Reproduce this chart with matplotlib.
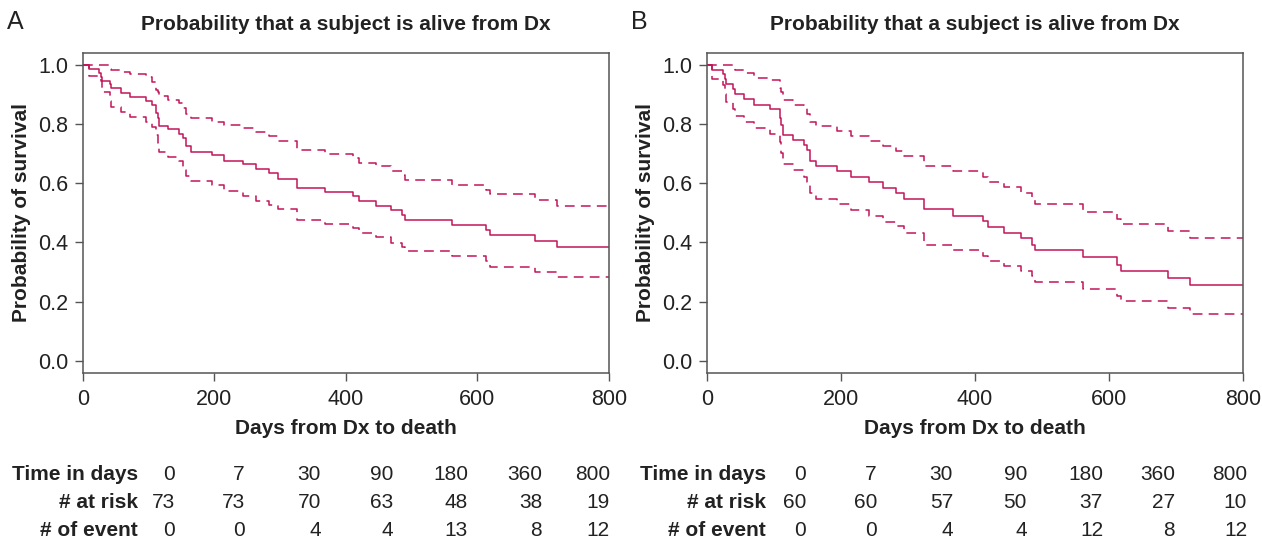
import numpy as np
import matplotlib
matplotlib.use("Agg")
import matplotlib.pyplot as plt

plt.rcParams['font.family'] = ['Liberation Sans', 'DejaVu Sans']
plt.rcParams['lines.scale_dashes'] = False

# ---- data ----
# panel A
times_a = [9.6, 25, 27.4, 29.4, 41.5, 43.5, 57.8, 71.9, 95.8, 104.9, 111.5, 114, 116,
           130.2, 146.5, 152, 156.7, 164.3, 196.2, 214.9, 243.3, 263.6, 283.3, 296.6,
           325.9, 368.5, 411.6, 420.7, 445.6, 468.4, 485.2, 490.2, 561.2, 613.4, 619,
           688.4, 721.8]
surv_a = [0.986, 0.973, 0.959, 0.945, 0.934, 0.921, 0.905, 0.891, 0.878, 0.863, 0.837,
          0.820, 0.794, 0.782, 0.767, 0.751, 0.726, 0.706, 0.694, 0.675, 0.664, 0.646,
          0.633, 0.615, 0.585, 0.570, 0.555, 0.538, 0.521, 0.508, 0.491, 0.474, 0.457,
          0.440, 0.424, 0.406, 0.383]
upper_a = [1.0, 1.0, 1.0, 1.0, 0.985, 0.980, 0.975, 0.967, 0.958, 0.941, 0.914, 0.906,
           0.894, 0.880, 0.869, 0.852, 0.832, 0.818, 0.807, 0.796, 0.785, 0.771, 0.758,
           0.743, 0.713, 0.699, 0.685, 0.669, 0.656, 0.641, 0.626, 0.611, 0.594, 0.578,
           0.563, 0.544, 0.524]
lower_a = [0.962, 0.955, 0.945, 0.908, 0.877, 0.857, 0.841, 0.823, 0.807, 0.790, 0.762,
           0.734, 0.704, 0.689, 0.675, 0.645, 0.625, 0.608, 0.592, 0.574, 0.558, 0.541,
           0.527, 0.512, 0.477, 0.463, 0.450, 0.432, 0.417, 0.398, 0.385, 0.370, 0.353,
           0.336, 0.317, 0.299, 0.282]

# panel B
times_b = [8.4, 24.8, 27.3, 28.8, 39.8, 42.3, 56.2, 71, 94.5, 109.4, 110.9, 114.4, 128.4,
           145.7, 149.3, 154.2, 162.7, 195, 214.9, 242.7, 262.6, 282, 295, 324.8, 367,
           412, 420, 444, 469, 486, 490, 561, 612, 618, 689, 721]
surv_b = [0.983, 0.967, 0.950, 0.933, 0.919, 0.900, 0.883, 0.865, 0.850, 0.818, 0.796,
          0.762, 0.745, 0.729, 0.710, 0.675, 0.658, 0.641, 0.621, 0.602, 0.583, 0.565,
          0.547, 0.511, 0.490, 0.471, 0.451, 0.432, 0.415, 0.392, 0.373, 0.350, 0.325,
          0.303, 0.278, 0.255]
upper_b = [1.0, 1.0, 1.0, 1.0, 0.990, 0.983, 0.973, 0.956, 0.947, 0.922, 0.906, 0.882,
           0.865, 0.854, 0.832, 0.807, 0.793, 0.776, 0.759, 0.742, 0.726, 0.708, 0.693,
           0.659, 0.641, 0.620, 0.603, 0.586, 0.566, 0.545, 0.530, 0.504, 0.480, 0.462,
           0.437, 0.413]
lower_b = [0.950, 0.930, 0.900, 0.874, 0.850, 0.827, 0.805, 0.787, 0.765, 0.740, 0.700,
           0.664, 0.645, 0.620, 0.603, 0.566, 0.547, 0.529, 0.510, 0.490, 0.470, 0.454,
           0.432, 0.392, 0.373, 0.355, 0.336, 0.319, 0.303, 0.285, 0.266, 0.244, 0.220,
           0.201, 0.180, 0.157]

# risk tables
table_times = ['0', '7', '30', '90', '180', '360', '800']
at_risk_a = [73, 73, 70, 63, 48, 38, 19]
events_a = [0, 0, 4, 4, 13, 8, 12]
at_risk_b = [60, 60, 57, 50, 37, 27, 10]
events_b = [0, 0, 4, 4, 12, 8, 12]

col = '#c2155a'
W, H = 1262, 543
fig = plt.figure(figsize=(W / 100, H / 100), dpi=100)


def px(x, y):
    return x / W, 1 - y / H


def km_panel(rect, times, surv, upper, lower, letter, letter_x):
    ax = fig.add_axes(rect)
    for vals, ls in [(surv, '-'), (upper, (0, (7, 4.5))), (lower, (0, (7, 4.5)))]:
        xs = [0] + list(times) + [800]
        ys = [1.0] + list(vals) + [vals[-1]]
        ax.step(xs, ys, where='post', color=col, lw=1.1, ls=ls)
    ax.set_xlim(0, 800)
    ax.set_ylim(-0.04, 1.04)
    ax.set_xticks([0, 200, 400, 600, 800])
    ax.set_yticks(np.arange(0, 1.01, 0.2))
    ax.set_yticklabels([f'{v:.1f}' for v in np.arange(0, 1.01, 0.2)])
    ax.tick_params(direction='out', length=5.5, width=1, color='#555555',
                   labelsize=15.5, labelcolor='#222222')
    ax.tick_params(axis='y', pad=5)
    ax.tick_params(axis='x', pad=6)
    for s in ax.spines.values():
        s.set_color('#555555')
        s.set_linewidth(1.1)
    ax.set_title('Probability that a subject is alive from Dx', fontsize=15,
                 fontweight='bold', color='#222222', pad=16)
    ax.set_xlabel('Days from Dx to death', fontsize=15, fontweight='bold',
                  color='#222222', labelpad=7)
    ax.set_ylabel('Probability of survival', fontsize=15, fontweight='bold',
                  color='#222222', labelpad=5)
    fig.text(*px(letter_x, 22), letter, fontsize=18, color='#222222',
             ha='left', va='center')
    return ax


ax_a = km_panel([82.7 / W, 1 - 372.7 / H, 526 / W, 320 / H],
                times_a, surv_a, upper_a, lower_a, 'A', 7)
ax_b = km_panel([706.7 / W, 1 - 372.7 / H, 536 / W, 320 / H],
                times_b, surv_b, upper_b, lower_b, 'B', 631)


def risk_table(label_right, col_rights, at_risk, events):
    rows = [('Time in days', table_times), ('# at risk', at_risk),
            ('# of event', events)]
    for (lab, vals), yy in zip(rows, [475, 503, 531]):
        fig.text(*px(label_right, yy), lab, fontsize=15, fontweight='bold',
                 color='#222222', ha='right', va='center')
        for v, xr in zip(vals, col_rights):
            fig.text(*px(xr, yy), str(v), fontsize=15, color='#222222',
                     ha='right', va='center')


risk_table(138, [175, 245, 321, 393, 468, 542, 610], at_risk_a, events_a)
risk_table(766, [806, 877, 953, 1027, 1103, 1175, 1247], at_risk_b, events_b)

fig.savefig('out.png', dpi=100)
